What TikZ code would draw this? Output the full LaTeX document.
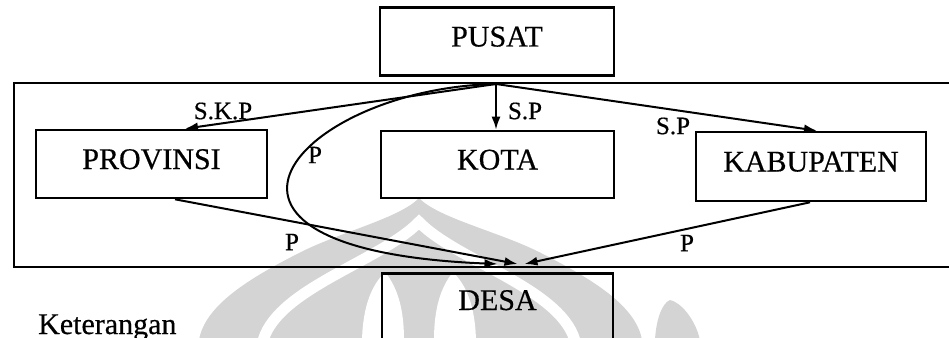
\documentclass[tikz,border=0pt]{standalone}
\usepackage{fontspec}
\setmainfont{Liberation Serif}[FakeBold=0.5]
\usetikzlibrary{arrows.meta}
\begin{document}
\begin{tikzpicture}[x=1pt,y=-1pt,
  box/.style={draw, line width=2.6pt, minimum height=68pt, inner sep=0pt,
    font=\fontsize{30}{30}\selectfont, text height=20pt, text depth=10pt},
  frame/.style={draw, line width=2pt, inner sep=0pt, anchor=north west},
  link/.style={line width=2pt, -{Latex[length=13pt,width=9pt]}},
  tag/.style={font=\fontsize{25}{25}\selectfont, inner sep=0pt},
  wm/.style={fill=black!17, draw=none},
]
\useasboundingbox (0,0) rectangle (949,337);

% watermark emblem in the background
\fill[wm] (419,198) .. controls (400,218) and (340,232) .. (299,253)
  .. controls (250,278) and (205,305) .. (199,340) -- (642,340)
  .. controls (636,305) and (590,278) .. (541,253)
  .. controls (500,232) and (438,218) .. (419,198) -- cycle;
\fill[wm] (700,340) .. controls (695,318) and (680,302) .. (670,300)
  .. controls (662,303) and (656,320) .. (655,340) -- cycle;
\draw[white, line width=11pt] (262,345) .. controls (272,290) and (380,262) .. (419,222)
  .. controls (458,262) and (566,290) .. (576,345);
\fill[white] (362,340) .. controls (363,305) and (372,285) .. (385,272)
  .. controls (398,288) and (404,310) .. (404,340) -- cycle;
\fill[white] (476,340) .. controls (475,305) and (466,285) .. (453,272)
  .. controls (440,288) and (434,310) .. (434,340) -- cycle;

% frame around the regional levels
\node[frame, minimum width=960pt, minimum height=184pt] (wilayah) at (13,82) {};

% boxes
\node[box, minimum width=234pt] (pusat) at (497,41.5) {PUSAT};
\node[box, minimum width=231pt] (provinsi) at (151.5,164) {PROVINSI};
\node[box, minimum width=233pt, minimum height=67pt] (kota) at (497.5,164.5) {KOTA};
\node[box, minimum width=230pt, minimum height=69pt] (kabupaten) at (811,166.5) {KABUPATEN};
\node[box, minimum width=231pt, minimum height=100pt, anchor=north] (desa) at (497.5,272) {};
\node[box, draw=none, minimum width=0pt, minimum height=0pt] (desatext) at (497.5,305) {DESA};

% common origin of the links from the centre
\coordinate (src) at (496,84);
\coordinate (tipA) at ([yshift=8pt]desa.north);
\coordinate (tipB) at ([xshift=20pt,yshift=8pt]desa.north);
\coordinate (tipC) at ([xshift=27pt,yshift=8pt]desa.north);

% links
\draw[link] (src) -- ([xshift=33.5pt]provinsi.north);
\draw[link] (src) -- (src |- kota.north);
\draw[link] (src) -- ([xshift=6pt]kabupaten.north);
\draw[link] (src) .. controls (300,88) and (150,250) .. (tipA);
\draw[link] ([xshift=23.5pt]provinsi.south) -- (tipB);
\draw[link] ([xshift=-1pt]kabupaten.south) -- (tipC);

% link labels
\node[tag] (lskp) at (223,111) {S.K.P};
\node[tag] (lspk) at (525,111) {S.P};
\node[tag] (lspb) at (673,126) {S.P};
\node[tag] (lpc) at (315,155) {P};
\node[tag] (lpp) at (292,242) {P};
\node[tag] (lpk) at (687,243) {P};

% legend heading
\node[font=\fontsize{30}{30}\selectfont, inner sep=0pt, anchor=base west] (ket) at (38,334) {Keterangan};
\end{tikzpicture}
\end{document}
